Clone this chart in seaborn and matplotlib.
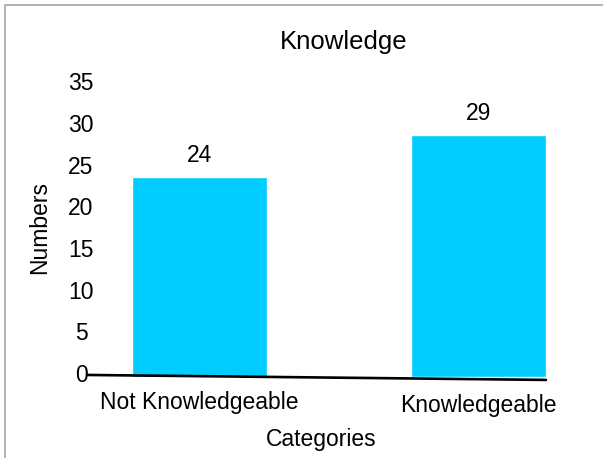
import matplotlib
matplotlib.use("Agg")
import matplotlib.pyplot as plt
from matplotlib.patches import Rectangle
from matplotlib.lines import Line2D
from matplotlib.transforms import ScaledTranslation
import seaborn as sns
import pandas as pd

categories = ["Not Knowledgeable", "Knowledgeable"]
numbers = [24, 29]
y_ticks = [0, 5, 10, 15, 20, 25, 30, 35]

sns.set_theme(style="white")
plt.rcParams["font.family"] = ["Liberation Sans", "DejaVu Sans"]

df = pd.DataFrame({"Categories": categories, "Numbers": numbers})

W, H = 603, 458
fig = plt.figure(figsize=(W / 100, H / 100), dpi=100)
fig.patch.set_facecolor("white")

# axes placed in pixel terms
left, right, bottom, top = 88, 546, 377, 85.4
ax = fig.add_axes([left / W, 1 - bottom / H, (right - left) / W, (bottom - top) / H])

sns.barplot(data=df, x="Categories", y="Numbers", color="#00CCFF",
            saturation=1, width=0.482, ax=ax)

ax.set_xlim(-0.4, 1.242)
ax.set_ylim(0, 35)
ax.set_yticks(y_ticks)
ax.set_yticklabels([str(t) for t in y_ticks])

for s in ax.spines.values():
    s.set_visible(False)

# slightly tilted baseline under the bars
ax.add_line(Line2D([0, 1], [0.007, -0.010], transform=ax.transAxes,
                   color="black", lw=1.9, clip_on=False))

ax.tick_params(axis="y", length=0, pad=5, labelsize=16.5, colors="black")
ax.tick_params(axis="x", length=0, pad=10, labelsize=16.5, colors="black")
for lbl in ax.get_yticklabels():
    lbl.set_horizontalalignment("center")
    lbl.set_transform(lbl.get_transform() + ScaledTranslation(0, 4 / 100, fig.dpi_scale_trans))
xl = ax.get_xticklabels()
xl[1].set_transform(xl[1].get_transform() + ScaledTranslation(0, -3 / 100, fig.dpi_scale_trans))

# value labels
for cont in ax.containers:
    ax.bar_label(cont, labels=[str(v) for v in numbers], padding=7.5,
                 fontsize=16.5, color="black")

ax.set_xlabel("Categories", fontsize=16.5, color="black")
ax.xaxis.label.set_verticalalignment("baseline")
ax.xaxis.set_label_coords(0.509, -0.237)
ax.set_ylabel("Numbers", fontsize=16.5, color="black")
ax.yaxis.set_label_coords(-0.081, 0.511)

fig.text(344 / W, 1 - 49.5 / H, "Knowledge", ha="center", va="baseline",
         fontsize=18.5, color="black")

# outer frame
fig.patches.append(Rectangle((5 / W, -0.1), 1.2, 1.1 - 5 / H + 0.0,
                             transform=fig.transFigure, fill=False,
                             edgecolor="#a6a6a6", lw=1.2))

fig.savefig("out.png", dpi=100, facecolor="white")
